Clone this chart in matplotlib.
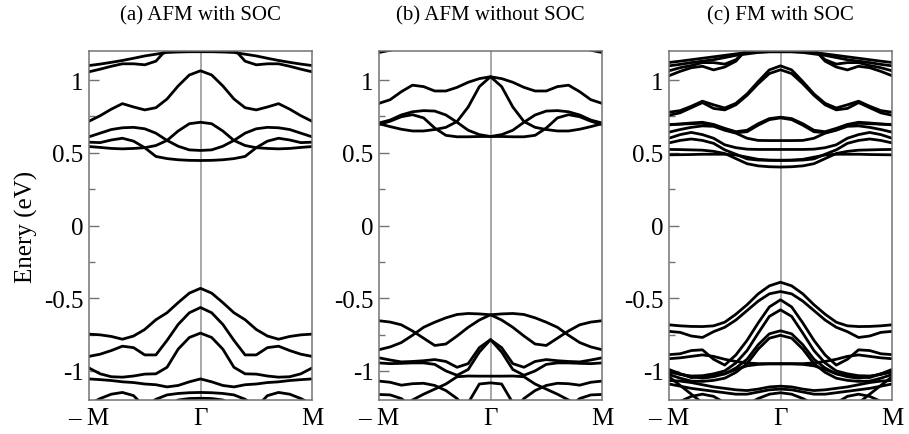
import numpy as np
import matplotlib
matplotlib.use("Agg")
import matplotlib.pyplot as plt
from matplotlib.ticker import MultipleLocator

plt.rcParams['font.family'] = ['Liberation Serif', 'DejaVu Serif']

# k along Gamma -> M (fraction of the path); bands are mirrored to the other M
k_half = [0.0, 0.1, 0.2, 0.3, 0.4, 0.5, 0.6, 0.7, 0.8, 0.9, 1.0]

titles = ['(a) AFM with SOC', '(b) AFM without SOC', '(c) FM with SOC']
xtick_labels = ['\u2013 M', '\u0393', 'M']
ytick_values = [-1, -0.5, 0, 0.5, 1]
ytick_labels = ['-1', '-0.5', '0', '0.5', '1']

# (a) AFM with SOC, energies in eV at k_half
a_conduction = [
    [1.195, 1.195, 1.193, 1.19, 1.178, 1.166, 1.15, 1.135, 1.122, 1.11, 1.10],
    [1.32, 1.31, 1.27, 1.215, 1.13, 1.105, 1.112, 1.112, 1.095, 1.075, 1.057],
    [1.064, 1.035, 0.96, 0.87, 0.81, 0.795, 0.815, 0.838, 0.80, 0.755, 0.717],
    [0.71, 0.70, 0.65, 0.585, 0.55, 0.535, 0.53, 0.527, 0.53, 0.537, 0.543],
    [0.516, 0.52, 0.545, 0.585, 0.635, 0.665, 0.675, 0.672, 0.66, 0.635, 0.61],
    [0.447, 0.448, 0.452, 0.46, 0.475, 0.535, 0.58, 0.60, 0.588, 0.57, 0.573],
]
a_valence = [
    [-0.432, -0.465, -0.53, -0.60, -0.648, -0.715, -0.76, -0.782, -0.763, -0.752, -0.747],
    [-0.564, -0.60, -0.68, -0.79, -0.89, -0.89, -0.84, -0.83, -0.86, -0.885, -0.90],
    [-0.74, -0.77, -0.85, -0.975, -1.02, -1.022, -1.035, -1.043, -1.04, -1.02, -0.98],
    [-1.055, -1.075, -1.10, -1.11, -1.095, -1.09, -1.08, -1.075, -1.066, -1.06, -1.055],
    [-1.148, -1.15, -1.155, -1.165, -1.195, -1.25, -1.3, -1.3, -1.3, -1.3, -1.3],
    [-1.3, -1.3, -1.3, -1.3, -1.3, -1.25, -1.17, -1.148, -1.16, -1.19, -1.23],
    [-1.188, -1.19, -1.2, -1.24, -1.3, -1.3, -1.3, -1.3, -1.3, -1.3, -1.3],
]

# (b) AFM without SOC
b_conduction = [
    [1.023, 1.01, 0.985, 0.95, 0.925, 0.925, 0.955, 0.965, 0.92, 0.865, 0.84],
    [1.023, 0.955, 0.815, 0.715, 0.675, 0.66, 0.65, 0.65, 0.662, 0.68, 0.70],
    [0.612, 0.625, 0.655, 0.71, 0.76, 0.787, 0.79, 0.782, 0.76, 0.725, 0.705],
    [0.612, 0.612, 0.61, 0.61, 0.62, 0.67, 0.74, 0.762, 0.748, 0.717, 0.695],
    [1.45, 1.44, 1.42, 1.40, 1.37, 1.34, 1.31, 1.27, 1.235, 1.205, 1.19],
]
b_valence = [
    [-0.614, -0.608, -0.605, -0.612, -0.635, -0.665, -0.70, -0.755, -0.805, -0.835, -0.854],
    [-0.614, -0.65, -0.70, -0.76, -0.815, -0.825, -0.775, -0.725, -0.683, -0.664, -0.655],
    [-0.785, -0.84, -0.95, -0.975, -0.935, -0.922, -0.93, -0.935, -0.938, -0.925, -0.91],
    [-0.785, -0.87, -0.99, -1.03, -1.0, -0.955, -0.945, -0.945, -0.948, -0.95, -0.945],
    [-1.036, -1.036, -1.035, -1.04, -1.09, -1.125, -1.16, -1.2, -1.25, -1.28, -1.3],
    [-1.35, -1.33, -1.28, -1.19, -1.135, -1.10, -1.085, -1.088, -1.098, -1.078, -1.07],
    [-1.082, -1.09, -1.22, -1.4, -1.4, -1.4, -1.4, -1.4, -1.4, -1.4, -1.4],
    [-1.4, -1.4, -1.4, -1.4, -1.4, -1.4, -1.35, -1.25, -1.19, -1.165, -1.162],
]

# (c) FM with SOC
c_conduction = [
    [1.195, 1.195, 1.193, 1.19, 1.18, 1.17, 1.16, 1.15, 1.14, 1.13, 1.121],
    [1.195, 1.195, 1.19, 1.18, 1.17, 1.155, 1.14, 1.13, 1.12, 1.108, 1.098],
    [1.32, 1.31, 1.27, 1.21, 1.14, 1.11, 1.12, 1.12, 1.10, 1.085, 1.064],
    [1.32, 1.31, 1.27, 1.215, 1.13, 1.09, 1.07, 1.095, 1.085, 1.06, 1.03],
    [1.098, 1.07, 0.99, 0.905, 0.84, 0.808, 0.83, 0.855, 0.82, 0.79, 0.779],
    [1.071, 1.045, 0.975, 0.895, 0.83, 0.795, 0.805, 0.845, 0.81, 0.775, 0.758],
    [0.745, 0.735, 0.70, 0.655, 0.645, 0.668, 0.695, 0.71, 0.705, 0.698, 0.692],
    [0.74, 0.728, 0.69, 0.645, 0.638, 0.66, 0.688, 0.703, 0.70, 0.697, 0.695],
    [0.584, 0.584, 0.585, 0.60, 0.635, 0.655, 0.682, 0.685, 0.675, 0.66, 0.642],
    [0.523, 0.523, 0.523, 0.525, 0.535, 0.555, 0.60, 0.625, 0.64, 0.625, 0.60],
    [0.447, 0.448, 0.45, 0.458, 0.49, 0.52, 0.565, 0.585, 0.595, 0.585, 0.568],
    [0.402, 0.404, 0.41, 0.425, 0.46, 0.495, 0.51, 0.518, 0.52, 0.522, 0.523],
    [0.449, 0.45, 0.455, 0.47, 0.485, 0.49, 0.49, 0.49, 0.488, 0.487, 0.486],
]
c_valence = [
    [-0.39, -0.415, -0.47, -0.545, -0.61, -0.665, -0.69, -0.695, -0.694, -0.69, -0.683],
    [-0.454, -0.47, -0.52, -0.585, -0.65, -0.70, -0.73, -0.77, -0.76, -0.735, -0.728],
    [-0.511, -0.56, -0.67, -0.79, -0.89, -0.96, -0.92, -0.855, -0.86, -0.882, -0.888],
    [-0.58, -0.625, -0.74, -0.86, -0.945, -1.0, -1.02, -1.033, -1.035, -1.025, -1.002],
    [-0.724, -0.745, -0.82, -0.92, -0.98, -1.02, -1.03, -1.04, -1.046, -1.02, -0.99],
    [-0.755, -0.775, -0.85, -0.95, -1.01, -1.05, -1.065, -1.072, -1.07, -1.05, -1.025],
    [-0.952, -0.952, -0.955, -0.965, -0.99, -1.02, -1.04, -1.05, -1.04, -1.02, -1.01],
    [-0.95, -0.95, -0.95, -0.945, -0.935, -0.92, -0.90, -0.89, -0.90, -0.91, -0.916],
    [-1.105, -1.11, -1.125, -1.135, -1.13, -1.12, -1.11, -1.095, -1.08, -1.07, -1.066],
    [-1.125, -1.13, -1.145, -1.16, -1.16, -1.15, -1.14, -1.13, -1.12, -1.105, -1.09],
    [-1.15, -1.16, -1.19, -1.23, -1.26, -1.22, -1.175, -1.16, -1.175, -1.21, -1.25],
    [-1.4, -1.4, -1.4, -1.4, -1.4, -1.35, -1.28, -1.22, -1.16, -1.10, -1.04],
]

panels = [a_conduction + a_valence, b_conduction + b_valence, c_conduction + c_valence]


def full_path(values):
    k = np.array(k_half)
    e = np.array(values)
    x = np.concatenate([-k[::-1], k[1:]])
    y = np.concatenate([e[::-1], e[1:]])
    return x, y


fig = plt.figure(figsize=(9.09, 4.35), dpi=100)
lefts = [89 / 909, 379 / 909, 669 / 909]
frame = '0.45'

for i, left in enumerate(lefts):
    ax = fig.add_axes([left, 34 / 435, 223 / 909, 349 / 435])
    ax.axvline(0, color='0.6', lw=1.2, zorder=1)
    for band in panels[i]:
        x, y = full_path(band)
        ax.plot(x, y, color='black', lw=2.0, solid_joinstyle='round', zorder=2)
    ax.set_xlim(-1, 1)
    ax.set_ylim(-1.2, 1.2)
    ax.set_xticks([-1, 0, 1])
    ax.set_xticklabels(xtick_labels)
    ax.set_yticks(ytick_values)
    ax.set_yticklabels(ytick_labels)
    ax.yaxis.set_minor_locator(MultipleLocator(0.25))
    ax.tick_params(axis='x', length=0, labelsize=18, pad=5)
    ax.tick_params(axis='y', which='major', direction='in', length=7, width=1,
                   color=frame, labelsize=18, pad=4)
    ax.tick_params(axis='y', which='minor', direction='in', length=4, width=1, color=frame)
    for s in ax.spines.values():
        s.set_color(frame)
        s.set_linewidth(1.1)
    ax.set_title(titles[i], fontsize=15, pad=23)
    if i == 0:
        ax.set_ylabel('Enery (eV)', fontsize=18)
        ax.yaxis.set_label_coords(-0.23, 0.5)

fig.savefig('out.png', dpi=100)
